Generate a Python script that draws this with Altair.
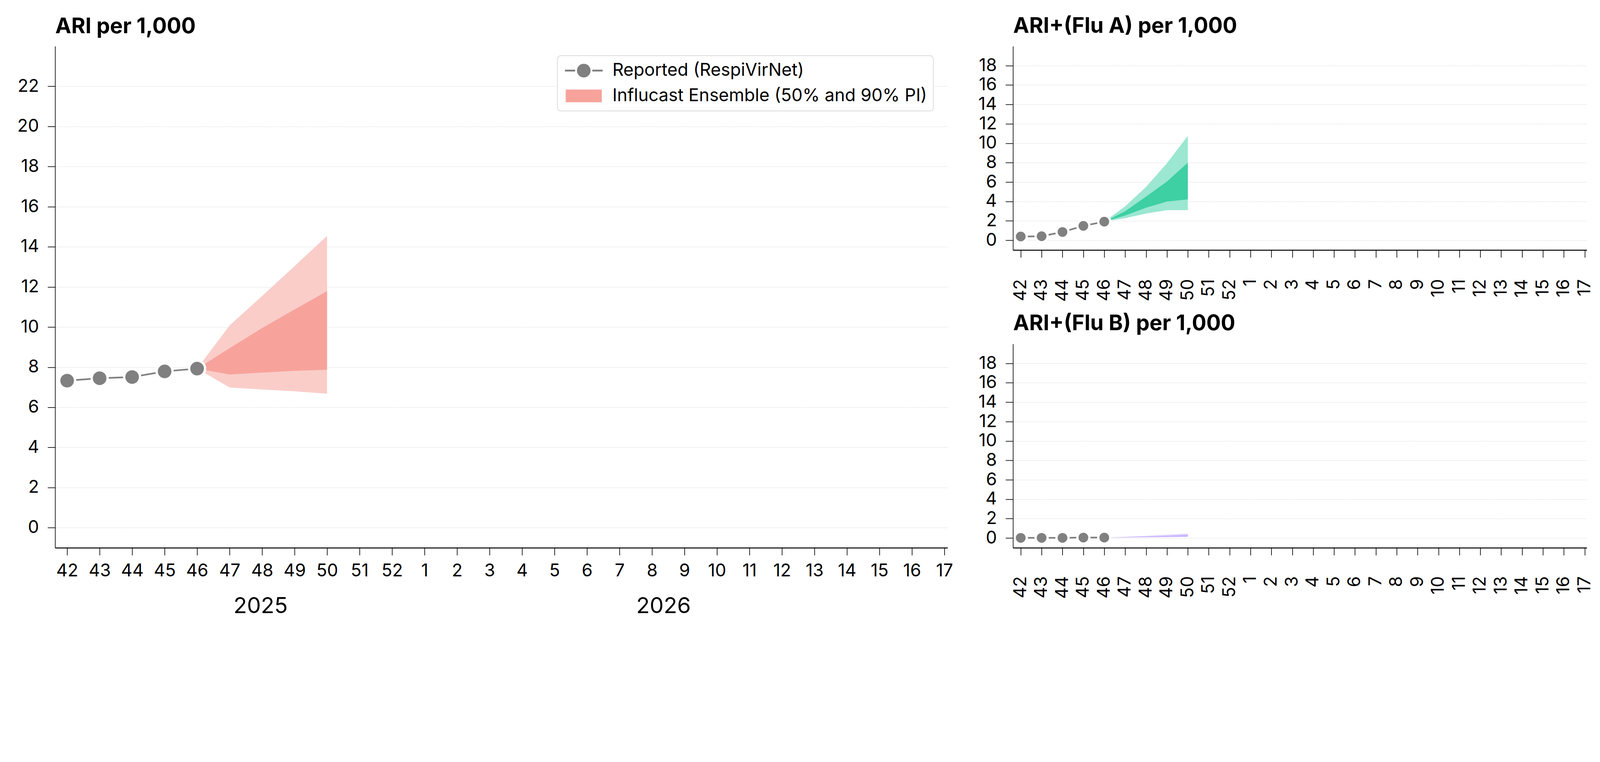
import json
import math
import altair as alt
import pandas as pd

# ---------------- data ----------------
week_labels = [42, 43, 44, 45, 46, 47, 48, 49, 50, 51, 52,
               1, 2, 3, 4, 5, 6, 7, 8, 9, 10, 11, 12, 13, 14, 15, 16, 17]
year_labels = ["2025", "2026"]
reported_weeks = [42, 43, 44, 45, 46]
forecast_weeks = [46, 47, 48, 49, 50]
legend_labels = ["Reported (RespiVirNet)", "Influcast Ensemble (50% and 90% PI)"]
panel_titles = ["ARI per 1,000", "ARI+(Flu A) per 1,000", "ARI+(Flu B) per 1,000"]

ari_reported = [7.33, 7.45, 7.51, 7.79, 7.93]
ari_q05 = [7.93, 6.99, 6.89, 6.80, 6.68]
ari_q25 = [7.93, 7.64, 7.73, 7.82, 7.87]
ari_q75 = [7.93, 8.95, 9.95, 10.88, 11.79]
ari_q95 = [7.93, 10.08, 11.55, 13.04, 14.55]

flua_reported = [0.39, 0.42, 0.86, 1.49, 1.92]
flua_q05 = [1.92, 2.28, 2.76, 3.11, 3.11]
flua_q25 = [1.92, 2.56, 3.36, 4.00, 4.22]
flua_q75 = [1.92, 3.00, 4.50, 6.06, 8.00]
flua_q95 = [1.92, 3.50, 5.50, 7.94, 10.76]

flub_reported = [0.02, 0.02, 0.02, 0.05, 0.05]
flub_q05 = [0.05, 0.06, 0.08, 0.10, 0.12]
flub_q25 = [0.05, 0.07, 0.10, 0.13, 0.16]
flub_q75 = [0.05, 0.10, 0.16, 0.23, 0.31]
flub_q95 = [0.05, 0.13, 0.23, 0.34, 0.46]

# ---------------- style ----------------
FONT = "Inter"
GRAY = "#808080"
X_DOMAIN = [-0.37, 27.1]
W_MAIN, H_MAIN = 2747, 1543
W_SIDE, H_SIDE = 1766, 627

week_expr = json.dumps([str(w) for w in week_labels]) + "[round(datum.value)]"
year_expr = json.dumps(year_labels) + "[datum.value < 12 ? 0 : 1]"

# legend glyphs (custom symbol paths, unit = 20 px)
_circ = " ".join(
    ("M" if i == 0 else "L") + f"{1.05 * math.cos(2 * math.pi * i / 40):.3f},"
    f"{1.05 * math.sin(2 * math.pi * i / 40):.3f}" for i in range(40)) + "Z"
PATH_REPORTED = ("M-2.9,-0.14L-1.32,-0.14L-1.32,0.14L-2.9,0.14Z "
                 "M1.32,-0.14L2.9,-0.14L2.9,0.14L1.32,0.14Z " + _circ)
PATH_BAND = "M-2.78,-0.98L2.78,-0.98L2.78,0.98L-2.78,0.98Z"


def idx_of(weeks):
    return [week_labels.index(w) for w in weeks]


def build_panel(title, reported, q05, q25, q75, q95, outer_c, inner_c,
                width, height, ymax, ytop, size, angle, xpad, title_y,
                main=False):
    fc = pd.DataFrame({"idx": idx_of(forecast_weeks), "q05": q05, "q25": q25,
                       "q75": q75, "q95": q95})
    rp = pd.DataFrame({"idx": idx_of(reported_weeks), "value": reported,
                       "series": legend_labels[0]})

    xscale = alt.Scale(domain=X_DOMAIN, nice=False, zero=False)
    yscale = alt.Scale(domain=[-1, ymax], nice=False, zero=False)

    week_axis = alt.Axis(
        values=list(range(len(week_labels))), labelExpr=week_expr,
        labelAngle=angle, labelAlign="center" if angle == 0 else "right",
        labelBaseline="top" if angle == 0 else "middle",
        grid=False, ticks=True, tickSize=23, tickWidth=2, tickColor="black",
        domainColor="black", domainWidth=3, labelFont=FONT, labelFontSize=54,
        labelColor="black", labelPadding=xpad, title=None, labelFlush=False,
        labelOverlap=False)
    # the panel title is drawn as the (horizontal) title of the y axis
    y_axis = alt.Axis(
        values=list(range(0, ytop + 1, 2)), grid=True, gridColor="#c8c8c8",
        gridDash=[3, 2], gridWidth=1, tickSize=23, tickWidth=2,
        tickColor="black", domainColor="black", domainWidth=2,
        labelFont=FONT, labelFontSize=54, labelColor="black", labelPadding=27,
        labelFlush=False, labelOverlap=False,
        title=title, titleAngle=0, titleAlign="left",
        titleBaseline="alphabetic", titleX=0, titleY=title_y,
        titleFont=FONT, titleFontSize=66, titleFontWeight="bold",
        titleColor="black")

    # in the main panel the x axes are independent (week axis + year axis)
    x_other = None if main else week_axis

    outer = alt.Chart(fc).mark_area(color=outer_c, opacity=1).encode(
        x=alt.X("idx:Q", scale=xscale, axis=week_axis),
        y=alt.Y("q05:Q", scale=yscale, axis=y_axis),
        y2="q95:Q")
    inner = alt.Chart(fc).mark_area(color=inner_c, opacity=1).encode(
        x=alt.X("idx:Q", scale=xscale, axis=x_other),
        y=alt.Y("q25:Q", scale=yscale, axis=y_axis),
        y2="q75:Q")
    line = alt.Chart(rp).mark_line(color=GRAY, strokeWidth=5).encode(
        x=alt.X("idx:Q", scale=xscale, axis=x_other),
        y=alt.Y("value:Q", scale=yscale, axis=y_axis))
    pts = alt.Chart(rp).mark_circle(size=size, color=GRAY, opacity=1,
                                    stroke="white", strokeWidth=7).encode(
        x=alt.X("idx:Q", scale=xscale, axis=x_other),
        y=alt.Y("value:Q", scale=yscale, axis=y_axis))
    layers = [outer, inner, line, pts]

    if main:
        leg = alt.Legend(
            title=None, orient="none", legendX=1546, legendY=29,
            direction="vertical", fillColor="white", strokeColor="#d6d6d6",
            cornerRadius=10, padding=19, labelFont=FONT, labelFontSize=54,
            labelColor="black", labelLimit=3000, symbolSize=1600,
            symbolOffset=35, labelOffset=61, rowPadding=24,
            symbolOpacity=1, symbolStrokeWidth=0)
        year_axis = alt.Axis(
            orient="bottom", values=[5.95, 18.35], labelExpr=year_expr,
            ticks=False, tickSize=0, domain=False, grid=False,
            labelFont=FONT, labelFontSize=68, labelColor="black",
            labelPadding=147, labelBaseline="top", labelAngle=0,
            title=None, labelFlush=False, labelOverlap=False)
        carrier = alt.Chart(rp).mark_point(filled=True, opacity=0, size=1600).encode(
            x=alt.X("idx:Q", scale=xscale, axis=year_axis),
            y=alt.Y("value:Q", scale=yscale, axis=y_axis),
            color=alt.Color("series:N", scale=alt.Scale(
                domain=legend_labels, range=[GRAY, "#F7A39C"]), legend=leg),
            shape=alt.Shape("series:N", scale=alt.Scale(
                domain=legend_labels, range=[PATH_REPORTED, PATH_BAND]), legend=leg))
        layers.append(carrier)

    ch = alt.layer(*layers).properties(width=width, height=height)
    if main:
        ch = ch.resolve_axis(x="independent")
    return ch


main = build_panel(panel_titles[0], ari_reported, ari_q05, ari_q25, ari_q75,
                   ari_q95, "#FACDC9", "#F7A39C", W_MAIN, H_MAIN, 24, 22,
                   2401, 0, 21, -41, main=True)
flua = build_panel(panel_titles[1], flua_reported, flua_q05, flua_q25,
                   flua_q75, flua_q95, "#9BE7D1", "#3ECFA3", W_SIDE, H_SIDE,
                   20, 18, 1369, -90, 66, -42)
flub = build_panel(panel_titles[2], flub_reported, flub_q05, flub_q25,
                   flub_q75, flub_q95, "#DED3FE", "#C4AFFB", W_SIDE, H_SIDE,
                   20, 18, 1369, -90, 64, -43)

right = alt.vconcat(flua, flub, spacing=289, bounds="flush")
chart = alt.hconcat(main, right, spacing=201, bounds="flush").properties(
    padding={"left": 43, "top": -125, "right": 10, "bottom": -120}
).configure(font=FONT, background="white").configure_view(
    stroke=None).configure_legend(strokeWidth=2)

chart.save("out.html", embed_options={"renderer": "svg", "actions": False})
